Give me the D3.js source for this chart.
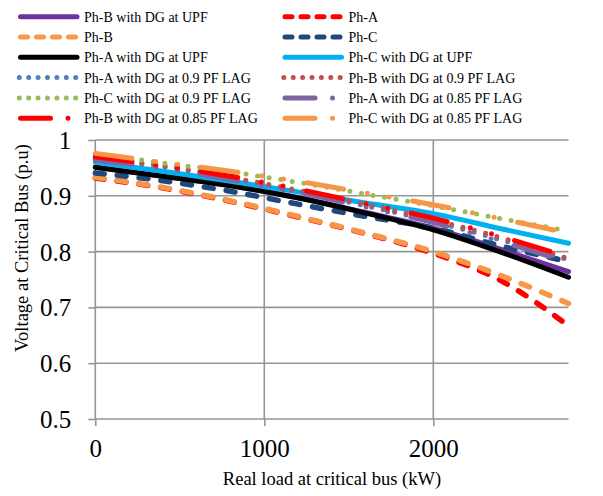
<!DOCTYPE html>
<html lang="en">
<head>
<meta charset="UTF-8"/>
<title>Voltage at critical bus</title>
<script src="https://d3js.org/d3.v7.min.js"></script>
<style>
  body { margin: 0; background: #fff; }
  text { font-family: "Liberation Serif", "Times New Roman", serif; fill: #000; }
</style>
</head>
<body>
<svg id="chart" width="603" height="496"></svg>
<script>
// load values (kW)
const loads = [0, 400, 800, 1200, 1600, 2000, 2400, 2800];

// voltages (p.u)
const phA       = [0.932, 0.914, 0.890, 0.862, 0.832, 0.797, 0.748, 0.667];
const phB       = [0.933, 0.915, 0.891, 0.863, 0.833, 0.800, 0.757, 0.707];
const phC       = [0.941, 0.927, 0.908, 0.885, 0.863, 0.842, 0.810, 0.782];
const phA_upf   = [0.951, 0.935, 0.918, 0.896, 0.869, 0.839, 0.799, 0.754];
const phB_upf   = [0.951, 0.935, 0.918, 0.897, 0.870, 0.842, 0.804, 0.764];
const phC_upf   = [0.960, 0.944, 0.926, 0.907, 0.887, 0.868, 0.841, 0.815];
const phA_09    = [0.965, 0.952, 0.931, 0.908, 0.882, 0.854, 0.821, 0.785];
const phB_09    = [0.966, 0.954, 0.933, 0.910, 0.885, 0.857, 0.825, 0.787];
const phC_09    = [0.975, 0.959, 0.943, 0.924, 0.903, 0.882, 0.859, 0.837];
const phA_085   = [0.964, 0.950, 0.929, 0.906, 0.880, 0.852, 0.818, 0.781];
const phB_085   = [0.970, 0.954, 0.935, 0.912, 0.886, 0.860, 0.827, 0.790];
const phC_085   = [0.976, 0.960, 0.944, 0.926, 0.905, 0.884, 0.859, 0.833];

const xTicks = [0, 1000, 2000];
const yTicks = [0.5, 0.6, 0.7, 0.8, 0.9, 1];

// series in legend order (row by row), drawn in this order
const series = [
  { name: "Ph-B with DG at UPF",          values: phB_upf, color: "#7030A0", style: "solid" },
  { name: "Ph-A",                         values: phA,     color: "#FF0000", style: "dash" },
  { name: "Ph-B",                         values: phB,     color: "#F79646", style: "dash" },
  { name: "Ph-C",                         values: phC,     color: "#1F497D", style: "dash" },
  { name: "Ph-A with DG at UPF",          values: phA_upf, color: "#000000", style: "solid" },
  { name: "Ph-C with DG at UPF",          values: phC_upf, color: "#00B0F0", style: "solid" },
  { name: "Ph-A with DG at 0.9 PF LAG",   values: phA_09,  color: "#4F81BD", style: "dot" },
  { name: "Ph-B with DG at 0.9 PF LAG",   values: phB_09,  color: "#C0504D", style: "dot" },
  { name: "Ph-C with DG at 0.9 PF LAG",   values: phC_09,  color: "#9BBB59", style: "dot" },
  { name: "Ph-A with DG at 0.85 PF LAG",  values: phA_085, color: "#8064A2", style: "dashdot" },
  { name: "Ph-B with DG at 0.85 PF LAG",  values: phB_085, color: "#FF0000", style: "dashdot" },
  { name: "Ph-C with DG at 0.85 PF LAG",  values: phC_085, color: "#F79646", style: "dashdot" }
];

const plotDash = { solid: null, dash: "9,13", dot: "0,11.7", dashdot: "37,24,0,22,0,24" };
const legendDash = { solid: null, dash: "7,9", dot: "0,9.4", dashdot: "30,17.5,0,100" };

const svg = d3.select("#chart");

const x = d3.scaleLinear().domain([0, 2800]).range([95.3, 568.5]);
const y = d3.scaleLinear().domain([0.5, 1]).range([419, 140]);

const grid = "#969696";

// horizontal gridlines
svg.append("g")
  .selectAll("line")
  .data(yTicks)
  .join("line")
    .attr("x1", x(0)).attr("x2", x(2800))
    .attr("y1", d => y(d)).attr("y2", d => y(d))
    .attr("stroke", grid).attr("stroke-width", 1.6);

// vertical gridlines
svg.append("g")
  .selectAll("line")
  .data(xTicks)
  .join("line")
    .attr("x1", d => x(d)).attr("x2", d => x(d))
    .attr("y1", y(1)).attr("y2", y(0.5))
    .attr("stroke", grid).attr("stroke-width", 1.6);

// y axis
const yAxis = svg.append("g")
  .attr("transform", `translate(${x(0)},0)`)
  .call(d3.axisLeft(y).tickValues(yTicks).tickSize(7).tickPadding(17)
    .tickFormat(d => d === 1 ? "1" : d3.format(".1f")(d)));
yAxis.select(".domain").remove();
yAxis.selectAll("line").attr("stroke", grid).attr("stroke-width", 1.6);
yAxis.selectAll("text").style("font-size", "25px").attr("font-family", null).attr("dy", "0.34em");

// x axis
const xAxis = svg.append("g")
  .attr("transform", `translate(0,${y(0.5)})`)
  .call(d3.axisBottom(x).tickValues(xTicks).tickSize(7).tickPadding(13)
    .tickFormat(d3.format("d")));
xAxis.select(".domain").remove();
xAxis.selectAll("line").attr("stroke", grid).attr("stroke-width", 1.6);
xAxis.selectAll("text").style("font-size", "25px").attr("font-family", null);

// lines
const line = d3.line()
  .x((d, i) => x(loads[i]))
  .y(d => y(d))
  .curve(d3.curveMonotoneX);

svg.append("g")
  .selectAll("path")
  .data(series)
  .join("path")
    .attr("d", d => line(d.values))
    .attr("fill", "none")
    .attr("stroke", d => d.color)
    .attr("stroke-width", d => d.style === "dash" ? 5.5 : 5)
    .attr("stroke-linecap", "round")
    .attr("stroke-dasharray", d => plotDash[d.style]);

// axis titles
svg.append("text")
  .attr("x", 332).attr("y", 485)
  .attr("text-anchor", "middle")
  .style("font-size", "18.5px")
  .text("Real load at critical bus (kW)");

svg.append("text")
  .attr("transform", "translate(28,248) rotate(-90)")
  .attr("text-anchor", "middle")
  .style("font-size", "18.5px")
  .text("Voltage at Critical Bus (p.u)");

// legend
const legend = svg.append("g")
  .selectAll("g")
  .data(series)
  .join("g")
    .attr("transform", (d, i) => `translate(${i % 2 === 0 ? 18 : 282.5},${16.7 + Math.floor(i / 2) * 20.3})`);

legend.append("line")
  .attr("x1", d => d.style === "dot" ? 1.3 : 2.5)
  .attr("x2", 59)
  .attr("y1", 0).attr("y2", 0)
  .attr("stroke", d => d.color)
  .attr("stroke-width", 5)
  .attr("stroke-linecap", "round")
  .attr("stroke-dasharray", d => legendDash[d.style]);

legend.append("text")
  .attr("x", 66).attr("y", 5)
  .style("font-size", "14px")
  .text(d => d.name);
</script>
</body>
</html>
